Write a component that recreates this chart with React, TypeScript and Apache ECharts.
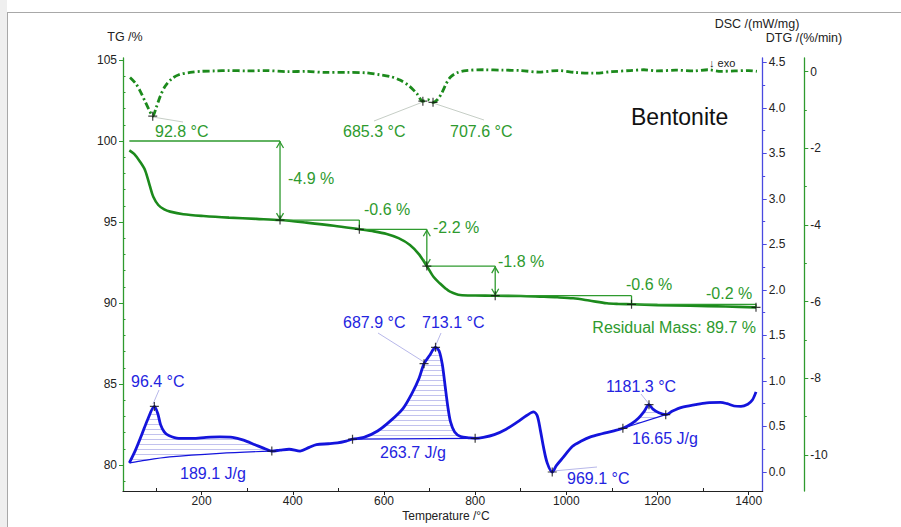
import React, { useEffect, useRef } from "react";
import * as echarts from "echarts";

// ---------- data ----------
const tgTemp = [41.5, 52, 65, 76, 87, 94, 105, 118, 131, 160, 204, 260, 320, 372, 430, 490, 546, 578, 606, 632, 657, 677, 694, 709, 723, 735, 745, 767, 800, 844, 900, 942, 980, 1015, 1050, 1089, 1115, 1143, 1200, 1271, 1350, 1416];
const tgValue = [99.42, 99.2, 98.72, 98.2, 97.18, 96.56, 96.05, 95.78, 95.64, 95.48, 95.37, 95.27, 95.19, 95.12, 94.96, 94.77, 94.55, 94.42, 94.26, 94.0, 93.58, 93.0, 92.28, 91.6, 91.2, 90.9, 90.7, 90.49, 90.46, 90.45, 90.43, 90.39, 90.35, 90.29, 90.15, 89.98, 89.94, 89.92, 89.87, 89.83, 89.78, 89.73];

const dtgTemp = [43, 55, 65, 75, 85, 92.8, 100, 110, 120, 135, 150, 175, 200, 230, 260, 300, 340, 390, 430, 470, 520, 560, 590, 615, 635, 655, 672, 685.3, 696, 707.6, 718, 727, 735, 745, 760, 780, 820, 860, 900, 940, 980, 1020, 1060, 1100, 1140, 1170, 1200, 1240, 1280, 1310, 1340, 1370, 1400, 1418];
const dtgValue = [-0.15, -0.3, -0.5, -0.75, -1.0, -1.16, -0.95, -0.62, -0.38, -0.18, -0.08, -0.02, 0.01, 0.02, 0.03, 0.02, 0.03, 0.0, 0.01, -0.02, -0.02, -0.03, -0.08, -0.13, -0.22, -0.37, -0.57, -0.77, -0.73, -0.8, -0.72, -0.55, -0.35, -0.15, -0.03, 0.03, 0.05, 0.04, 0.03, -0.01, 0.03, -0.02, -0.04, 0.0, 0.03, 0.05, 0.02, 0.04, 0.02, 0.05, 0.01, 0.02, 0.03, 0.01];

const dscTemp = [41.5, 55, 68, 82, 96.4, 104, 110, 118, 128, 150, 180, 210, 240, 268, 292, 317, 337, 354, 372, 392, 416, 436, 452, 478, 498, 517, 531, 556, 586, 616, 642, 662, 677, 687.9, 700, 713.1, 721, 728, 734, 740, 746, 755, 768, 788, 800, 818, 842, 868, 893, 913, 928, 936, 943, 950, 958, 969.1, 978, 993, 1013, 1033, 1053, 1078, 1102, 1124, 1143, 1158, 1170, 1181.3, 1190, 1203, 1218, 1233, 1253, 1283, 1308, 1338, 1353, 1368, 1383, 1398, 1408, 1416];
const dscValue = [0.1, 0.24, 0.4, 0.58, 0.72, 0.64, 0.52, 0.44, 0.4, 0.37, 0.37, 0.38, 0.385, 0.38, 0.35, 0.3, 0.26, 0.23, 0.24, 0.25, 0.23, 0.27, 0.3, 0.31, 0.32, 0.34, 0.36, 0.38, 0.45, 0.57, 0.7, 0.87, 1.03, 1.19, 1.28, 1.37, 1.33, 1.18, 0.95, 0.72, 0.55, 0.44, 0.39, 0.375, 0.37, 0.38, 0.41, 0.47, 0.55, 0.62, 0.66, 0.62, 0.46, 0.27, 0.1, 0.0, 0.07, 0.16, 0.28, 0.34, 0.385, 0.42, 0.45, 0.48, 0.53, 0.59, 0.66, 0.74, 0.69, 0.65, 0.63, 0.67, 0.71, 0.74, 0.76, 0.765, 0.75, 0.725, 0.72, 0.745, 0.79, 0.88];

const peak1BaseTemp = [41.5, 65, 130, 240, 354];
const peak1BaseValue = [0.1, 0.12, 0.165, 0.205, 0.23];
const peak2BaseTemp = [531, 800];
const peak2BaseValue = [0.36, 0.37];
const peak3BaseTemp = [1124, 1218];
const peak3BaseValue = [0.48, 0.63];

const stepTemp = [41.5, 372, 546, 694, 844, 1143, 1416];
const stepLevel = [100, 95.12, 94.55, 92.28, 90.45, 89.92, 89.73];
const stepArrow = [true, false, true, true, false, false];

const dtgMarkTemp = [92.8, 685.3, 707.6];
const dtgMarkValue = [-1.16, -0.77, -0.8];
const dscMarkTemp = [96.4, 354, 531, 687.9, 713.1, 800, 969.1, 1124, 1181.3, 1218];
const dscMarkValue = [0.72, 0.23, 0.36, 1.19, 1.37, 0.37, 0.0, 0.48, 0.74, 0.63];

const xTicks = [200, 400, 600, 800, 1000, 1200, 1400];
const xMinor = [100, 300, 500, 700, 900, 1100, 1300];
const tgTicks = [80, 85, 90, 95, 100, 105];
const tgMinor = [79, 81, 82, 83, 84, 86, 87, 88, 89, 91, 92, 93, 94, 96, 97, 98, 99, 101, 102, 103, 104];
const dscTicks = [0, 0.5, 1, 1.5, 2, 2.5, 3, 3.5, 4, 4.5];
const dscMinor = [0.25, 0.75, 1.25, 1.75, 2.25, 2.75, 3.25, 3.75, 4.25];
const dtgTicks = [0, -2, -4, -6, -8, -10];
const dtgMinor = [-1, -3, -5, -7, -9];

// ---------- styling ----------
const FONT = "'Liberation Sans', Arial, sans-serif";
const GREEN = "#1c8a1c";
const GREEN_TXT = "#2e9a2e";
const BLUE = "#1414dc";
const BLUE_TXT = "#2424e0";
const BLUE_AXIS = "#4a4ae0";

const X_MIN = 27.6, X_MAX = 1430.7;
const TG_MIN = 78.395, TG_MAX = 105.123;
const DSC_MIN = -0.209, DSC_MAX = 4.549;
const DTG_MIN = -10.94, DTG_MAX = 0.357;

const zip = (a: number[], b: number[]) => a.map((v, i) => [v, b[i]]);

function hatchSeries(baseT: number[], baseV: number[]) {
  const t0 = baseT[0];
  const t1 = baseT[baseT.length - 1];
  return {
    type: "custom",
    xAxisIndex: 0,
    yAxisIndex: 1,
    silent: true,
    z: 1,
    data: [[t0, baseV[0]]],
    renderItem: (_p: any, api: any) => {
      const poly: number[][] = [];
      for (let i = 0; i < dscTemp.length; i++) {
        if (dscTemp[i] >= t0 && dscTemp[i] <= t1) poly.push(api.coord([dscTemp[i], dscValue[i]]));
      }
      for (let i = baseT.length - 1; i >= 0; i--) poly.push(api.coord([baseT[i], baseV[i]]));
      let ymin = Infinity, ymax = -Infinity;
      poly.forEach((p) => { ymin = Math.min(ymin, p[1]); ymax = Math.max(ymax, p[1]); });
      const children: any[] = [];
      for (let y = Math.ceil(ymin) + 2.5; y < ymax; y += 5) {
        const xs: number[] = [];
        for (let i = 0; i < poly.length; i++) {
          const a = poly[i], b = poly[(i + 1) % poly.length];
          if ((a[1] <= y && b[1] > y) || (b[1] <= y && a[1] > y)) {
            xs.push(a[0] + ((y - a[1]) * (b[0] - a[0])) / (b[1] - a[1]));
          }
        }
        xs.sort((p, q) => p - q);
        for (let k = 0; k + 1 < xs.length; k += 2) {
          children.push({ type: "line", shape: { x1: xs[k], y1: y, x2: xs[k + 1], y2: y }, style: { stroke: "#c2c2ee", lineWidth: 1 } });
        }
      }
      return { type: "group", children };
    },
  };
}

function crossSeries(t: number[], v: number[], yIdx: number) {
  return {
    type: "scatter",
    xAxisIndex: 0,
    yAxisIndex: yIdx,
    silent: true,
    z: 10,
    symbol: "path://M0,5L10,5M5,0L5,10",
    symbolSize: 9,
    itemStyle: { color: "transparent", borderColor: "#111", borderWidth: 1.2 },
    data: zip(t, v),
  };
}

function txt(text: string, x: number, y: number, fill: string, size = 16, align = "left") {
  return {
    type: "text",
    silent: true,
    z: 20,
    style: { text, x, y, fill, font: `${size}px ${FONT}`, textAlign: align, textVerticalAlign: "middle", align, verticalAlign: "middle" },
  };
}
function seg(x1: number, y1: number, x2: number, y2: number, stroke: string) {
  return { type: "line", silent: true, z: 2, shape: { x1, y1, x2, y2 }, style: { stroke, lineWidth: 1 } };
}

function yMain(min: number, max: number, ticks: number[], color: string, position: string, offset: number, fmt: (v: number) => string) {
  return {
    type: "value", position, offset, min, max,
    splitLine: { show: false },
    axisLine: { show: true, onZero: false, lineStyle: { color, width: 1.3 } },
    axisTick: { show: true, customValues: ticks, length: 4, lineStyle: { color, width: 1 } },
    axisLabel: { customValues: ticks, color: "#222", fontSize: 12, fontFamily: FONT, margin: 6, formatter: fmt },
  };
}
function yMinor(min: number, max: number, ticks: number[], color: string, position: string, offset: number, inside: boolean) {
  return {
    type: "value", position, offset, min, max,
    splitLine: { show: false },
    axisLine: { show: false, onZero: false },
    axisTick: { show: true, inside, customValues: ticks, length: 2.5, lineStyle: { color, width: 1 } },
    axisLabel: { show: false },
  };
}

export default function App() {
  const ref = useRef<HTMLDivElement>(null);
  useEffect(() => {
    if (!ref.current) return;
    const chart = echarts.init(ref.current, null, { renderer: "svg" });
    const option: any = {
      animation: false,
      backgroundColor: "#ffffff",
      textStyle: { fontFamily: FONT },
      grid: { left: 123, right: 138.3, top: 58, bottom: 36 },
      xAxis: [
        {
          type: "value", position: "bottom", min: X_MIN, max: X_MAX,
          splitLine: { show: false },
          axisLine: { show: true, onZero: false, lineStyle: { color: "#222", width: 1.2 } },
          axisTick: { show: true, customValues: xTicks, length: 4, lineStyle: { color: "#222" } },
          axisLabel: { customValues: xTicks, color: "#222", fontSize: 12, fontFamily: FONT, margin: 4, formatter: (v: number) => String(v) },
        },
        {
          type: "value", position: "bottom", min: X_MIN, max: X_MAX,
          splitLine: { show: false },
          axisLine: { show: false, onZero: false },
          axisTick: { show: true, inside: true, customValues: xMinor, length: 3, lineStyle: { color: "#222" } },
          axisLabel: { show: false },
        },
      ],
      yAxis: [
        yMain(TG_MIN, TG_MAX, tgTicks, GREEN_TXT, "left", 0, (v: number) => String(v)),
        yMain(DSC_MIN, DSC_MAX, dscTicks, BLUE_AXIS, "right", 0, (v: number) => v.toFixed(1)),
        yMain(DTG_MIN, DTG_MAX, dtgTicks, GREEN_TXT, "right", 41.6, (v: number) => String(v)),
        yMinor(TG_MIN, TG_MAX, tgMinor, GREEN_TXT, "left", 0, true),
        yMinor(DSC_MIN, DSC_MAX, dscMinor, BLUE_AXIS, "right", 0, false),
        yMinor(DTG_MIN, DTG_MAX, dtgMinor, GREEN_TXT, "right", 41.6, false),
      ],
      series: [
        hatchSeries(peak1BaseTemp, peak1BaseValue),
        hatchSeries(peak2BaseTemp, peak2BaseValue),
        hatchSeries(peak3BaseTemp, peak3BaseValue),
        {
          type: "line", xAxisIndex: 0, yAxisIndex: 0, data: zip(tgTemp, tgValue), showSymbol: false, smooth: 0.3, z: 5,
          lineStyle: { color: GREEN, width: 2.6 },
        },
        {
          type: "line", xAxisIndex: 0, yAxisIndex: 2, data: zip(dtgTemp, dtgValue), showSymbol: false, smooth: 0.3, z: 5,
          lineStyle: { color: GREEN, width: 2.8, type: [7, 3, 2, 3] },
        },
        {
          type: "line", xAxisIndex: 0, yAxisIndex: 1, data: zip(dscTemp, dscValue), showSymbol: false, smooth: 0.3, z: 5,
          lineStyle: { color: BLUE, width: 2.8 },
        },
        ...[[peak1BaseTemp, peak1BaseValue], [peak2BaseTemp, peak2BaseValue], [peak3BaseTemp, peak3BaseValue]].map(([t, v]) => ({
          type: "line", xAxisIndex: 0, yAxisIndex: 1, data: zip(t, v), showSymbol: false, smooth: 0.3, z: 4,
          lineStyle: { color: BLUE, width: 1.2 },
        })),
        {
          type: "custom", xAxisIndex: 0, yAxisIndex: 0, silent: true, z: 6,
          data: stepArrow.map((a, i) => [stepTemp[i], stepTemp[i + 1], stepLevel[i], stepLevel[i + 1], a ? 1 : 0]),
          renderItem: (_p: any, api: any) => {
            const p0 = api.coord([api.value(0), api.value(2)]);
            const p1 = api.coord([api.value(1), api.value(2)]);
            const p2 = api.coord([api.value(1), api.value(3)]);
            const st = { stroke: GREEN_TXT, lineWidth: 1.3, fill: "none" };
            const children: any[] = [
              { type: "line", shape: { x1: p0[0], y1: p0[1], x2: p1[0], y2: p1[1] }, style: st },
              { type: "line", shape: { x1: p1[0], y1: p1[1], x2: p2[0], y2: p2[1] }, style: st },
            ];
            if (api.value(4)) {
              const x = p1[0];
              children.push({ type: "polyline", shape: { points: [[x - 3.5, p1[1] + 7], [x, p1[1] + 1], [x + 3.5, p1[1] + 7]] }, style: st });
              children.push({ type: "polyline", shape: { points: [[x - 3.5, p2[1] - 7], [x, p2[1] - 1], [x + 3.5, p2[1] - 7]] }, style: st });
            }
            return { type: "group", children };
          },
        },
        crossSeries(stepTemp.slice(1), stepLevel.slice(1), 0),
        crossSeries(dtgMarkTemp, dtgMarkValue, 2),
        crossSeries(dscMarkTemp, dscMarkValue, 1),
      ],
      graphic: [
        { type: "rect", silent: true, z: 0, shape: { x: 0, y: 0, width: 7, height: 527 }, style: { fill: "#efefef" } },
        seg(7.5, 12, 7.5, 527, "#a8a8a8"),
        seg(7.5, 12.5, 901, 12.5, "#a8a8a8"),
        // axis names
        txt("TG /%", 125, 37, "#222", 12.5, "center"),
        txt("DSC /(mW/mg)", 757, 24, "#222", 12.5, "center"),
        txt("DTG /(%/min)", 804, 38, "#222", 12.5, "center"),
        txt("Temperature /°C", 446, 516, "#222", 12, "center"),
        txt("↓ exo", 709, 63, "#222", 11, "left"),
        txt("Bentonite", 631, 117, "#111", 23, "left"),
        // leader lines
        seg(152.7, 117, 183, 122, "#c6cec6"),
        seg(422.8, 102, 374, 121, "#c6cec6"),
        seg(433, 103, 484, 120, "#c6cec6"),
        seg(153, 404, 159, 390, "#b8b8ea"),
        seg(424, 362, 378, 333, "#b8b8ea"),
        seg(435, 347, 441, 333, "#b8b8ea"),
        seg(553, 471, 597, 467, "#b8b8ea"),
        seg(649, 404, 641, 394, "#b8b8ea"),
        // DTG labels
        txt("92.8 °C", 155, 131, GREEN_TXT),
        txt("685.3 °C", 343, 131, GREEN_TXT),
        txt("707.6 °C", 450, 131, GREEN_TXT),
        // TG step labels
        txt("-4.9 %", 288, 178, GREEN_TXT),
        txt("-0.6 %", 364, 209, GREEN_TXT),
        txt("-2.2 %", 433, 227, GREEN_TXT),
        txt("-1.8 %", 498, 261, GREEN_TXT),
        txt("-0.6 %", 626, 284, GREEN_TXT),
        txt("-0.2 %", 706, 293, GREEN_TXT),
        txt("Residual Mass: 89.7 %", 756, 327, GREEN_TXT, 16, "right"),
        // DSC labels
        txt("96.4 °C", 131, 381, BLUE_TXT),
        txt("687.9 °C", 343, 322, BLUE_TXT),
        txt("713.1 °C", 422, 322, BLUE_TXT),
        txt("189.1 J/g", 180, 473, BLUE_TXT),
        txt("263.7 J/g", 380, 452, BLUE_TXT),
        txt("969.1 °C", 567, 478, BLUE_TXT),
        txt("1181.3 °C", 606, 386, BLUE_TXT),
        txt("16.65 J/g", 632, 438, BLUE_TXT),
      ],
    };
    chart.setOption(option);
    return () => chart.dispose();
  }, []);
  return <div ref={ref} style={{ position: "absolute", left: 0, top: 0, width: 901, height: 527, background: "#fff" }} />;
}
